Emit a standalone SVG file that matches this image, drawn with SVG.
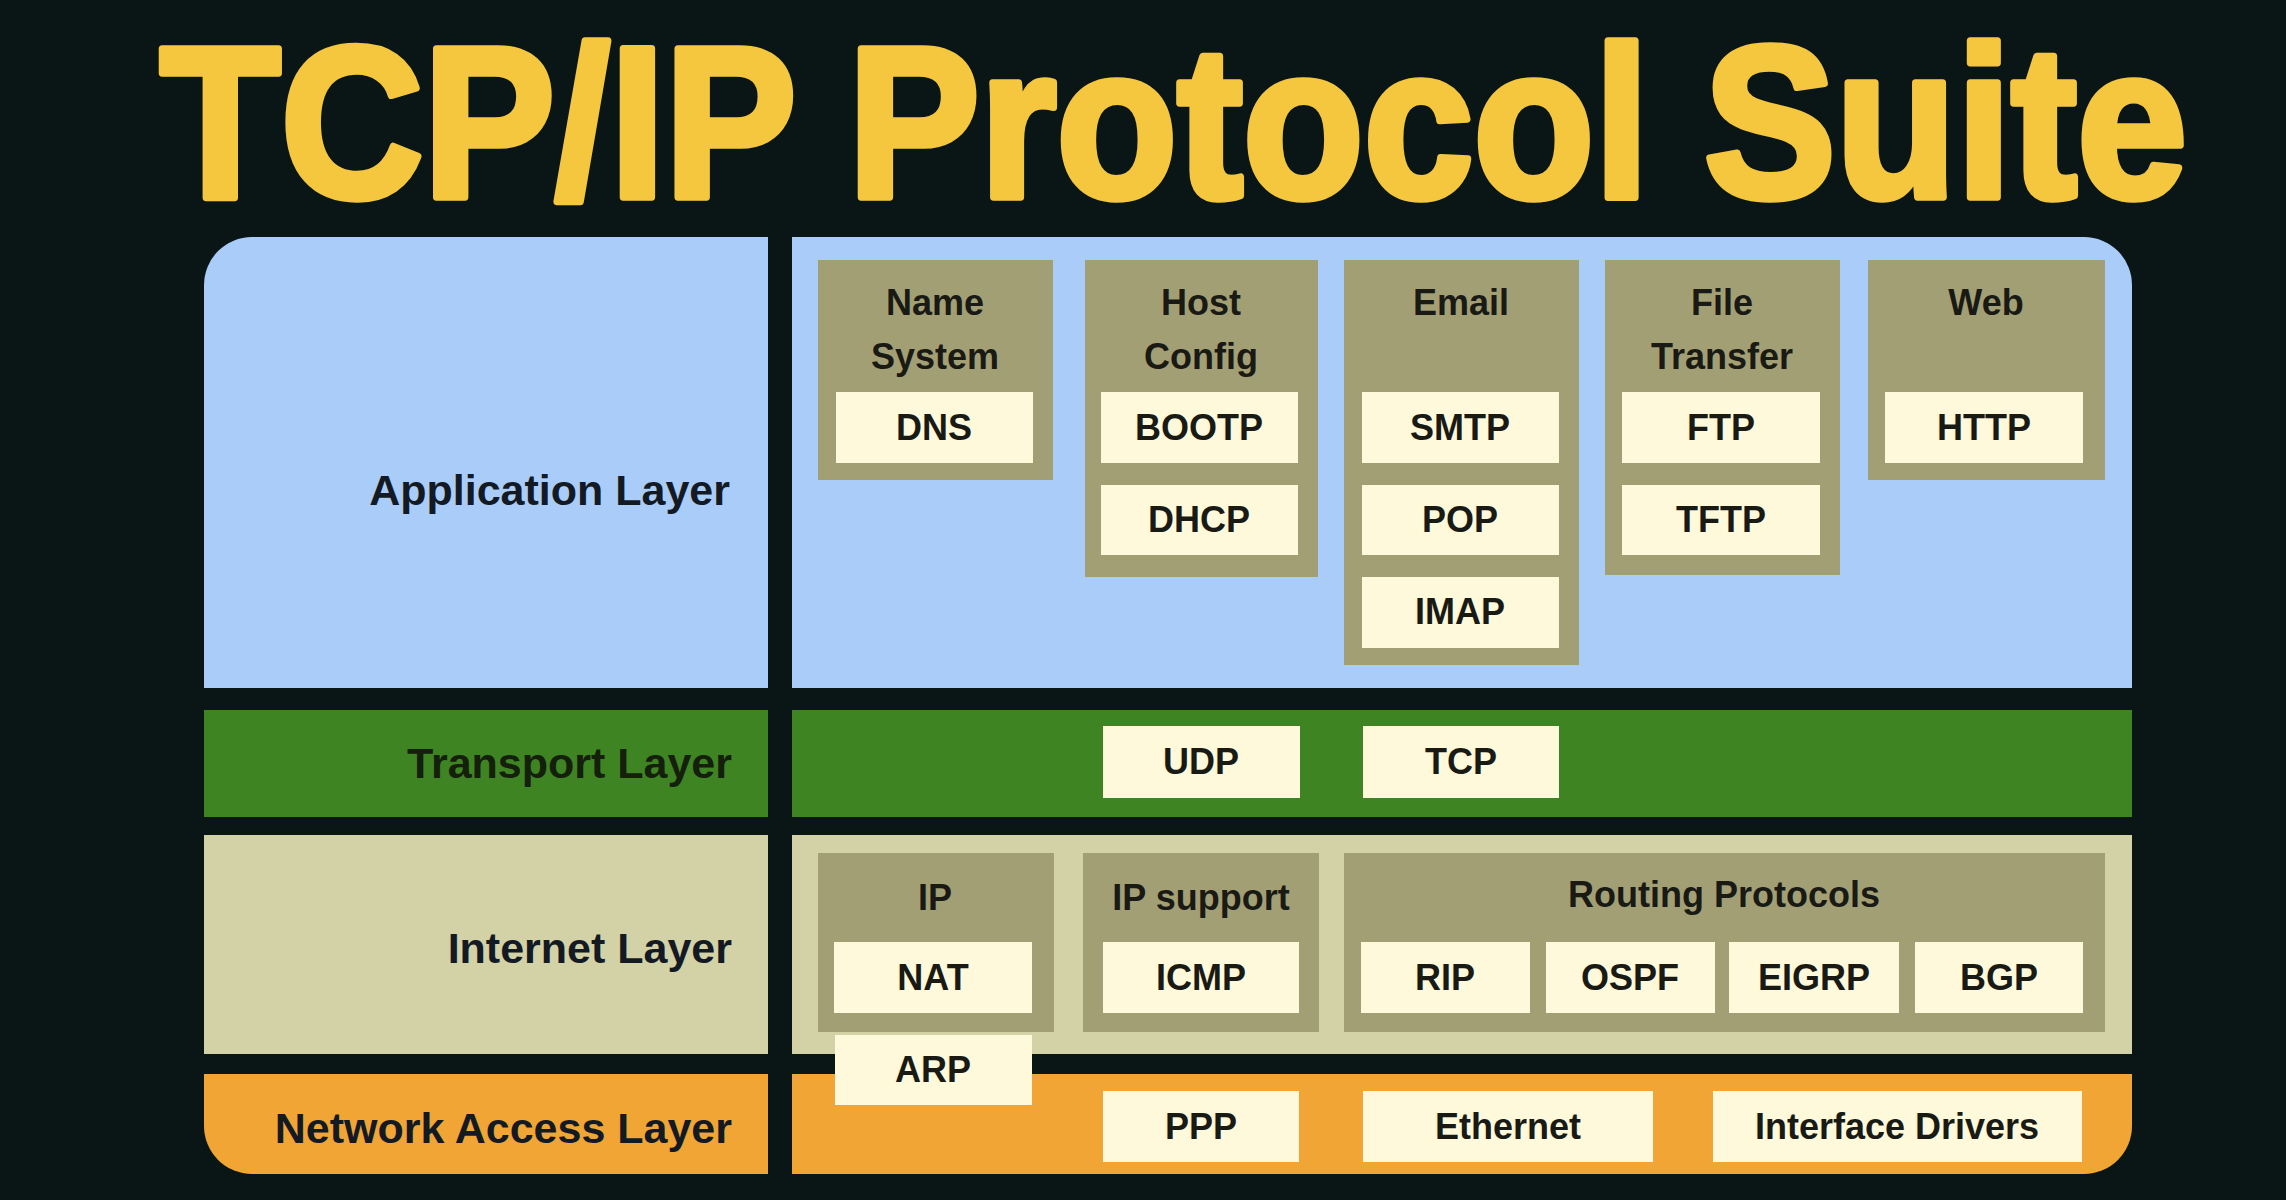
<svg xmlns="http://www.w3.org/2000/svg" width="2286" height="1200" viewBox="0 0 2286 1200">
<style>
.grp{fill:#A39F74}
.box{fill:#FDF9DA}
.t{font-family:"Liberation Sans",Arial,Helvetica,sans-serif;font-weight:bold;font-size:36px;fill:#1a1a14;text-anchor:middle}
.lay{font-family:"Liberation Sans",Arial,Helvetica,sans-serif;font-weight:bold;font-size:43px;fill:#141a24;text-anchor:end}
.title{font-family:"Liberation Sans",Arial,sans-serif;font-weight:bold;font-size:200px;fill:#F4C73E;stroke:#F4C73E;stroke-width:7;stroke-linejoin:round}
</style>
<defs>
<clipPath id="panel"><rect x="204" y="237" width="1928" height="937" rx="48" ry="48"/></clipPath>
</defs>
<rect width="2286" height="1200" fill="#0A1616"/>
<g id="title" transform="translate(160,197) scale(1,1.075)">
<text class="title" x="0" y="0" textLength="2027" lengthAdjust="spacingAndGlyphs">TCP/IP Protocol Suite</text>
</g>

<g id="layers" clip-path="url(#panel)">
<rect x="204" y="237" width="564" height="451" fill="#A9CDF8"/>
<rect x="792" y="237" width="1340" height="451" fill="#A9CDF8"/>
<rect x="204" y="710" width="564" height="107" fill="#3F8423"/>
<rect x="792" y="710" width="1340" height="107" fill="#3F8423"/>
<rect x="204" y="835" width="564" height="219" fill="#D3D1A6"/>
<rect x="792" y="835" width="1340" height="219" fill="#D3D1A6"/>
<rect x="204" y="1074" width="564" height="100" fill="#F0A535"/>
<rect x="792" y="1074" width="1340" height="100" fill="#F0A535"/>
</g>

<g id="application-layer"><text class="lay" x="730" y="505">Application Layer</text></g>
<g id="transport-layer"><text class="lay" x="732" y="778" style="fill:#14200c">Transport Layer</text></g>
<g id="internet-layer"><text class="lay" x="732" y="963">Internet Layer</text></g>
<g id="network-access-layer"><text class="lay" x="732" y="1143">Network Access Layer</text></g>

<g id="name-system">
<rect class="grp" x="818" y="260" width="235" height="220"/>
<text class="t" x="935" y="315">Name</text><text class="t" x="935" y="369">System</text>
<g id="dns"><rect class="box" x="836" y="392" width="197" height="71"/><text class="t" x="934" y="440">DNS</text></g>
</g>
<g id="host-config">
<rect class="grp" x="1085" y="260" width="233" height="317"/>
<text class="t" x="1201" y="315">Host</text><text class="t" x="1201" y="369">Config</text>
<g id="bootp"><rect class="box" x="1101" y="392" width="197" height="71"/><text class="t" x="1199" y="440">BOOTP</text></g>
<g id="dhcp"><rect class="box" x="1101" y="485" width="197" height="70"/><text class="t" x="1199" y="532">DHCP</text></g>
</g>
<g id="email">
<rect class="grp" x="1344" y="260" width="235" height="405"/>
<text class="t" x="1461" y="315">Email</text>
<g id="smtp"><rect class="box" x="1362" y="392" width="197" height="71"/><text class="t" x="1460" y="440">SMTP</text></g>
<g id="pop"><rect class="box" x="1362" y="485" width="197" height="70"/><text class="t" x="1460" y="532">POP</text></g>
<g id="imap"><rect class="box" x="1362" y="577" width="197" height="71"/><text class="t" x="1460" y="624">IMAP</text></g>
</g>
<g id="file-transfer">
<rect class="grp" x="1605" y="260" width="235" height="315"/>
<text class="t" x="1722" y="315">File</text><text class="t" x="1722" y="369">Transfer</text>
<g id="ftp"><rect class="box" x="1622" y="392" width="198" height="71"/><text class="t" x="1721" y="440">FTP</text></g>
<g id="tftp"><rect class="box" x="1622" y="485" width="198" height="70"/><text class="t" x="1721" y="532">TFTP</text></g>
</g>
<g id="web">
<rect class="grp" x="1868" y="260" width="237" height="220"/>
<text class="t" x="1986" y="315">Web</text>
<g id="http"><rect class="box" x="1885" y="392" width="198" height="71"/><text class="t" x="1984" y="440">HTTP</text></g>
</g>

<g id="udp"><rect class="box" x="1103" y="726" width="197" height="72"/><text class="t" x="1201" y="774">UDP</text></g>
<g id="tcp"><rect class="box" x="1363" y="726" width="196" height="72"/><text class="t" x="1461" y="774">TCP</text></g>

<g id="ip">
<rect class="grp" x="818" y="853" width="236" height="179"/>
<text class="t" x="935" y="910">IP</text>
<g id="nat"><rect class="box" x="834" y="942" width="198" height="71"/><text class="t" x="933" y="990">NAT</text></g>
</g>
<g id="arp"><rect class="box" x="835" y="1035" width="197" height="70"/><text class="t" x="933" y="1082">ARP</text></g>
<g id="ip-support">
<rect class="grp" x="1083" y="853" width="236" height="179"/>
<text class="t" x="1201" y="910">IP support</text>
<g id="icmp"><rect class="box" x="1103" y="942" width="196" height="71"/><text class="t" x="1201" y="990">ICMP</text></g>
</g>
<g id="routing-protocols">
<rect class="grp" x="1344" y="853" width="761" height="179"/>
<text class="t" x="1724" y="907">Routing Protocols</text>
<g id="rip"><rect class="box" x="1361" y="942" width="169" height="71"/><text class="t" x="1445" y="990">RIP</text></g>
<g id="ospf"><rect class="box" x="1546" y="942" width="169" height="71"/><text class="t" x="1630" y="990">OSPF</text></g>
<g id="eigrp"><rect class="box" x="1729" y="942" width="170" height="71"/><text class="t" x="1814" y="990">EIGRP</text></g>
<g id="bgp"><rect class="box" x="1915" y="942" width="168" height="71"/><text class="t" x="1999" y="990">BGP</text></g>
</g>

<g id="ppp"><rect class="box" x="1103" y="1091" width="196" height="71"/><text class="t" x="1201" y="1139">PPP</text></g>
<g id="ethernet"><rect class="box" x="1363" y="1091" width="290" height="71"/><text class="t" x="1508" y="1139">Ethernet</text></g>
<g id="interface-drivers"><rect class="box" x="1713" y="1091" width="369" height="71"/><text class="t" x="1897" y="1139">Interface Drivers</text></g>

<g id="connectors"/>
</svg>
